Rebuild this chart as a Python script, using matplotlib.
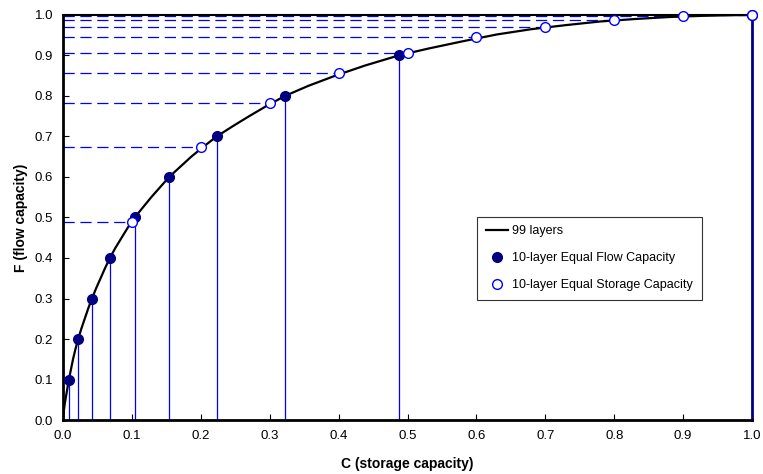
import matplotlib
matplotlib.use("Agg")
import matplotlib.pyplot as plt
import numpy as np

plt.rcParams['font.family'] = ['Liberation Sans', 'DejaVu Sans']

# 99-layer curve
curve_c = [0, 0.001, 0.0025, 0.0045, 0.0065, 0.0085, 0.0115, 0.0145, 0.018, 0.022,
           0.0265, 0.0315, 0.0365, 0.042, 0.048, 0.0545, 0.061, 0.068, 0.076, 0.085,
           0.094, 0.104, 0.116, 0.128, 0.141, 0.154, 0.17, 0.186, 0.204, 0.223,
           0.246, 0.27, 0.295, 0.322, 0.356, 0.395, 0.438, 0.487, 0.53, 0.58,
           0.63, 0.68, 0.73, 0.78, 0.83, 0.88, 0.93, 0.97, 1.0]
curve_f = [0, 0.02, 0.04, 0.06, 0.08, 0.1, 0.125, 0.15, 0.175, 0.2,
           0.225, 0.25, 0.275, 0.3, 0.325, 0.35, 0.375, 0.4, 0.425, 0.45,
           0.475, 0.5, 0.525, 0.55, 0.575, 0.6, 0.625, 0.65, 0.675, 0.7,
           0.725, 0.75, 0.775, 0.8, 0.825, 0.85, 0.875, 0.9, 0.917, 0.935,
           0.952, 0.965, 0.975, 0.984, 0.99, 0.995, 0.998, 0.9995, 1.0]

# 10-layer equal flow capacity
flow_c = [0.0085, 0.022, 0.042, 0.068, 0.104, 0.154, 0.223, 0.322, 0.487, 1.0]
flow_f = [0.1, 0.2, 0.3, 0.4, 0.5, 0.6, 0.7, 0.8, 0.9, 1.0]

# 10-layer equal storage capacity
stor_c = [0.1, 0.2, 0.3, 0.4, 0.5, 0.6, 0.7, 0.8, 0.9, 1.0]
stor_f = [0.49, 0.674, 0.782, 0.856, 0.907, 0.945, 0.970, 0.987, 0.997, 1.0]

blue = '#0000ff'
navy = '#000080'

fig = plt.figure(figsize=(7.63, 4.74), dpi=100)
ax = fig.add_axes([0.0826, 0.1139, 0.9030, 0.8545])

# guide lines
for c, f in zip(flow_c[:-1], flow_f[:-1]):
    ax.plot([c, c], [0, f], color=blue, lw=0.9, zorder=2)
ax.plot([flow_c[-1], flow_c[-1]], [0, flow_f[-1]], color=navy, lw=2,
        zorder=2, clip_on=False)
for c, f in zip(stor_c, stor_f):
    ax.plot([0, c], [f, f], color=blue, lw=0.9, linestyle=(0, (9, 4.5)), zorder=2)

ax.plot(curve_c, curve_f, color='black', lw=1.6, zorder=3, label='99 layers',
        solid_joinstyle='round')
ax.plot(flow_c, flow_f, 'o', color=navy, markersize=7, zorder=4, clip_on=False,
        label='10-layer Equal Flow Capacity')
ax.plot(stor_c, stor_f, 'o', markerfacecolor='white', markeredgecolor=blue,
        markeredgewidth=1.0, markersize=7, zorder=5, clip_on=False,
        label='10-layer Equal Storage Capacity')

ax.set_xlim(0, 1.0)
ax.set_ylim(0, 1.0)
ax.set_xticks(np.arange(0, 1.01, 0.1))
ax.set_yticks(np.arange(0, 1.01, 0.1))
ax.xaxis.set_major_formatter(matplotlib.ticker.FormatStrFormatter('%.1f'))
ax.yaxis.set_major_formatter(matplotlib.ticker.FormatStrFormatter('%.1f'))
ax.tick_params(direction='in', length=4, width=0.8, labelsize=9.5, pad=7)

for s in ['left', 'bottom']:
    ax.spines[s].set_linewidth(2)
ax.spines['top'].set_linewidth(1.5)
ax.spines['right'].set_visible(False)

ax.set_xlabel('C (storage capacity)', fontsize=10, fontweight='bold', labelpad=11)
ax.set_ylabel('F (flow capacity)', fontsize=10, fontweight='bold', labelpad=5)

leg = ax.legend(loc='upper left', bbox_to_anchor=(0.601, 0.502), fontsize=9,
                frameon=True, fancybox=False, edgecolor='black',
                handlelength=1.8, handletextpad=0.3, labelspacing=1.2,
                borderpad=0.7, borderaxespad=0)
leg.get_frame().set_linewidth(0.8)

fig.savefig('out.png', dpi=100)
